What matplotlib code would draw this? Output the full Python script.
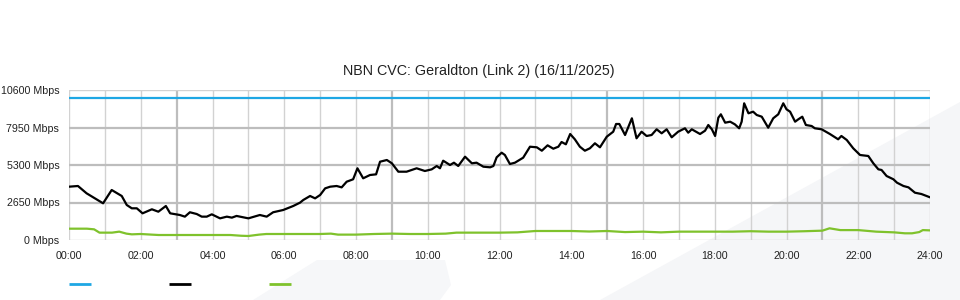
import numpy as np
import matplotlib
matplotlib.use('Agg')
import matplotlib.pyplot as plt
from matplotlib.lines import Line2D
from matplotlib.patches import Polygon

title = 'NBN CVC: Geraldton (Link 2) (16/11/2025)'

# traffic (hours since midnight, Mbps)
black_hours = [0.0, 0.25, 0.49, 0.95, 1.19, 1.47, 1.61, 1.75, 1.89, 2.05, 2.31, 2.49, 2.70, 2.82,
               3.09, 3.23, 3.37, 3.56, 3.70, 3.84, 3.98, 4.21, 4.40, 4.54, 4.67, 5.00, 5.32, 5.51,
               5.69, 5.97, 6.25, 6.44, 6.53, 6.72, 6.86, 7.00, 7.14, 7.28, 7.46, 7.60, 7.74, 7.92,
               8.04, 8.20, 8.39, 8.56, 8.67, 8.86, 9.00, 9.18, 9.41, 9.69, 9.92, 10.11, 10.25, 10.34,
               10.43, 10.62, 10.73, 10.85, 11.04, 11.23, 11.36, 11.55, 11.74, 11.83, 11.92, 12.06,
               12.15, 12.29, 12.43, 12.66, 12.85, 13.04, 13.18, 13.34, 13.50, 13.64, 13.73, 13.85,
               13.97, 14.10, 14.24, 14.38, 14.52, 14.66, 14.80, 14.99, 15.17, 15.25, 15.34, 15.50,
               15.69, 15.82, 15.96, 16.10, 16.24, 16.38, 16.52, 16.66, 16.80, 16.98, 17.17, 17.26,
               17.36, 17.59, 17.73, 17.82, 17.92, 18.01, 18.10, 18.17, 18.29, 18.43, 18.56, 18.68,
               18.75, 18.82, 18.94, 19.07, 19.17, 19.31, 19.49, 19.63, 19.77, 19.91, 20.00, 20.10,
               20.24, 20.33, 20.44, 20.54, 20.70, 20.79, 20.98, 21.21, 21.44, 21.53, 21.68, 21.86,
               22.05, 22.28, 22.42, 22.56, 22.65, 22.79, 22.98, 23.08, 23.26, 23.40, 23.58, 23.76, 24.0]
black_mbps = [3767, 3816, 3300, 2593, 3533, 3110, 2473, 2240, 2240, 1885, 2170, 2000, 2403, 1885,
              1767, 1650, 1960, 1837, 1650, 1650, 1815, 1530, 1650, 1580, 1700, 1530, 1767, 1650,
              1960, 2120, 2403, 2640, 2827, 3110, 2943, 3180, 3650, 3767, 3816, 3720, 4120, 4290,
              5067, 4360, 4593, 4640, 5533, 5653, 5420, 4827, 4827, 5067, 4876, 4993, 5230, 5067,
              5604, 5300, 5463, 5230, 5887, 5420, 5463, 5180, 5137, 5230, 5840, 6170,
              6007, 5370, 5463, 5817, 6593, 6550, 6310, 6690, 6452, 6593, 6925, 6763,
              7490, 7116, 6593, 6310, 6480, 6834, 6550, 7300, 7653, 8198, 8198, 7420,
              8600, 7187, 7653, 7350, 7420, 7823, 7540, 7823, 7257, 7653, 7894, 7583,
              7823, 7490, 7724, 8127, 7823, 7350, 8643, 8883, 8290, 8360, 8174, 7894,
              8360, 9660, 8954, 9067, 8834, 8714, 7936, 8600, 8883, 9660, 9236, 9067,
              8360, 8530, 8714, 8127, 8056, 7894, 7823, 7490, 7116, 7350, 7067, 6480,
              6007, 5936, 5420, 4996, 4947, 4523, 4290, 4050, 3816, 3720, 3343, 3250, 3017]

green_hours = [0.0, 0.5, 0.7, 0.85, 1.2, 1.4, 1.6, 1.75, 2.0, 2.3, 2.5, 3.0, 3.5, 4.0, 4.5, 4.8,
               5.0, 5.3, 5.5, 6.0, 6.5, 7.0, 7.3, 7.5, 8.0, 8.5, 9.0, 9.5, 10.0, 10.5, 10.8, 11.5,
               12.0, 12.5, 13.0, 14.0, 14.5, 15.0, 15.5, 16.0, 16.5, 17.0, 17.5, 18.0, 18.5, 19.0,
               19.5, 20.0, 20.5, 21.0, 21.2, 21.5, 22.0, 22.5, 23.0, 23.3, 23.5, 23.7, 23.8, 24.0]
green_mbps = [800, 800, 754, 520, 520, 590, 450, 400, 424, 380, 353, 353, 353, 353, 353, 300,
              283, 380, 424, 424, 424, 424, 450, 380, 380, 424, 450, 424, 424, 450, 520, 520,
              520, 540, 636, 636, 600, 636, 560, 590, 540, 590, 590, 590, 590, 620,
              590, 590, 620, 660, 826, 700, 700, 590, 540, 473, 473, 560, 700, 680]

capacity_mbps = 10000
y_ticks = [0, 2650, 5300, 7950, 10600]
x_ticks = list(range(0, 25, 2))

plt.rcParams['font.family'] = ['Liberation Sans', 'DejaVu Sans']

fig = plt.figure(figsize=(9.6, 3.0), dpi=100)
fig.patch.set_facecolor('white')

# faint watermark shapes behind the chart
fig.add_artist(Polygon([(600 / 960, 0), (1.0, 0.66), (1.0, 0)], closed=True,
                       facecolor='#f5f6f8', edgecolor='none', zorder=0))
fig.add_artist(Polygon([(253 / 960, 0), (317 / 960, 40 / 300), (445 / 960, 40 / 300),
                        (451 / 960, 15 / 300), (440 / 960, 0)], closed=True,
                       facecolor='#f6f7f9', edgecolor='none', zorder=0))

ax = fig.add_axes([69 / 960, 0.2, 861 / 960, 0.5])
ax.patch.set_visible(False)

# grid: hourly verticals, stronger every 6 h from 03:00
for h in range(0, 25):
    if h % 6 == 3:
        ax.axvline(h, color='#bdbdbd', lw=1.6, zorder=1)
    else:
        ax.axvline(h, color='#d2d2d2', lw=1.0, zorder=1)
for v in y_ticks:
    if v in (0, 10600):
        ax.axhline(v, color='#d2d2d2', lw=1.0, zorder=1)
    else:
        ax.axhline(v, color='#bdbdbd', lw=1.6, zorder=1)

ax.axhline(capacity_mbps, color='#1ea7e4', lw=1.6, zorder=3)
ax.plot(green_hours, green_mbps, color='#7fc22c', lw=1.6, zorder=3)
ax.plot(black_hours, black_mbps, color='black', lw=1.6, zorder=4)

ax.set_xlim(0, 24)
ax.set_ylim(0, 10600)
ax.set_xticks(x_ticks)
ax.set_xticklabels(['%02d:00' % h for h in x_ticks])
ax.set_yticks(y_ticks)
ax.set_yticklabels(['%d Mbps' % v for v in y_ticks])
ax.tick_params(length=0, labelsize=7.7, colors='#222222')
ax.tick_params(axis='x', pad=8)
ax.tick_params(axis='y', pad=7)
for s in ax.spines.values():
    s.set_visible(False)

fig.text(0.499, 0.763, title, ha='center', va='center', fontsize=10.3, color='#222222')

handles = [Line2D([], [], color='#1ea7e4', lw=2, solid_capstyle='butt'),
           Line2D([], [], color='black', lw=2, solid_capstyle='butt'),
           Line2D([], [], color='#7fc22c', lw=2, solid_capstyle='butt')]
fig.legend(handles, ['', '', ''], ncol=3, frameon=False, loc='center left',
           bbox_to_anchor=(69 / 960, 15 / 300), borderpad=0, borderaxespad=0,
           handlelength=2.0, handletextpad=0, columnspacing=7.0, fontsize=8)

fig.savefig('out.png', dpi=100)
